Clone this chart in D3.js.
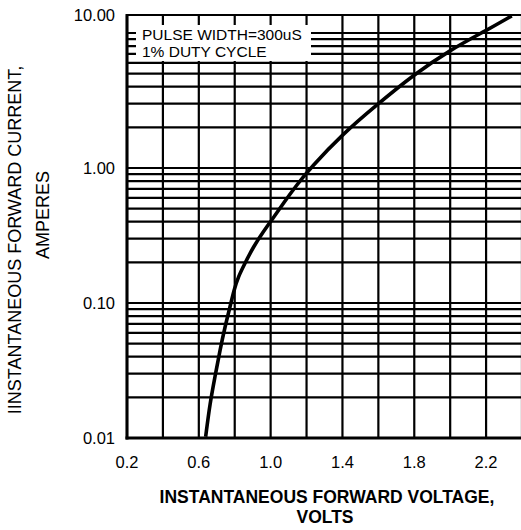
<!DOCTYPE html>
<html lang="en">
<head>
<meta charset="UTF-8" />
<title>Forward characteristics</title>
<script src="https://cdn.jsdelivr.net/npm/d3@7"></script>
<style>
  body { margin: 0; background: #fff; }
  text { font-family: "Liberation Sans", Arial, sans-serif; fill: #000; }
</style>
</head>
<body>
<script>
// curve
var voltage = [0.638, 0.662, 0.690, 0.718, 0.746, 0.774, 0.796, 0.820, 0.857, 0.904, 0.959, 1.006, 1.071, 1.145, 1.220, 1.405, 1.591, 1.795, 1.999, 2.204, 2.343];
var current = [0.0102, 0.0181, 0.0284, 0.0449, 0.0667, 0.0939, 0.125, 0.157, 0.197, 0.261, 0.337, 0.412, 0.548, 0.748, 0.995, 1.807, 2.93, 4.89, 7.48, 10.5, 13.4];

var xTicks = [0.2, 0.6, 1.0, 1.4, 1.8, 2.2];
var xTickLabels = ["0.2", "0.6", "1.0", "1.4", "1.8", "2.2"];
var xGrid = [0.2, 0.4, 0.6, 0.8, 1.0, 1.2, 1.4, 1.6, 1.8, 2.0, 2.2, 2.4];
var yTickLabels = ["0.01", "0.10", "1.00", "10.00"];
var decades = [0.01, 0.1, 1];
var legendLines = ["PULSE WIDTH=300uS", "1% DUTY CYCLE"];

var W = 521, H = 530;
var plotLeft = 127, plotBottom = 438, plotTop = 15, plotRight = 522;

var svg = d3.select("body").append("svg")
  .attr("width", W).attr("height", H);

var x = d3.scaleLinear().domain([0.2, 2.4]).range([plotLeft, plotRight]);
var y = d3.scaleLog().domain([0.01, 10]).range([plotBottom, 33]);
var yTopValue = y.invert(plotTop);

// horizontal grid: 1..9 in each decade plus 10
var yGrid = [];
decades.forEach(function(d) {
  for (var k = 1; k <= 9; k++) yGrid.push(d * k);
});
yGrid.push(10);

var grid = svg.append("g");
grid.selectAll("line.h").data(yGrid).enter().append("line")
  .attr("x1", plotLeft).attr("x2", W)
  .attr("y1", function(d) { return y(d); })
  .attr("y2", function(d) { return y(d); })
  .attr("stroke", "#000").attr("stroke-width", 2.2);

grid.selectAll("line.v").data(xGrid).enter().append("line")
  .attr("x1", function(d) { return x(d); })
  .attr("x2", function(d) { return x(d); })
  .attr("y1", plotTop).attr("y2", plotBottom)
  .attr("stroke", "#000").attr("stroke-width", 2.2);

// frame
svg.append("line").attr("x1", plotLeft).attr("x2", W).attr("y1", plotTop).attr("y2", plotTop)
  .attr("stroke", "#000").attr("stroke-width", 2.2);
svg.append("line").attr("x1", plotLeft).attr("x2", plotLeft).attr("y1", plotTop - 1).attr("y2", plotBottom + 1.5)
  .attr("stroke", "#000").attr("stroke-width", 3);
svg.append("line").attr("x1", plotLeft - 1.5).attr("x2", W).attr("y1", plotBottom).attr("y2", plotBottom)
  .attr("stroke", "#000").attr("stroke-width", 3);

// legend box
svg.append("rect").attr("x", 136).attr("y", 25).attr("width", 175).attr("height", 36)
  .attr("fill", "#fff");
svg.selectAll("text.legend").data(legendLines).enter().append("text")
  .attr("x", 142)
  .attr("y", function(d, i) { return 40 + i * 17; })
  .style("font-size", "15.5px")
  .text(function(d) { return d; });

// curve
var pts = voltage.map(function(v, i) { return [v, current[i]]; });
var line = d3.line()
  .x(function(d) { return x(d[0]); })
  .y(function(d) { return y(d[1]); })
  .curve(d3.curveBasis);
svg.append("path").datum(pts)
  .attr("d", line)
  .attr("fill", "none").attr("stroke", "#000").attr("stroke-width", 3.6);

// tick labels
var yTickValues = [0.01, 0.1, 1, yTopValue];
svg.selectAll("text.ytick").data(yTickValues).enter().append("text")
  .attr("x", 115)
  .attr("y", function(d) { return y(d); })
  .attr("dy", "0.36em")
  .attr("text-anchor", "end")
  .style("font-size", "16.5px")
  .text(function(d, i) { return yTickLabels[i]; });

svg.selectAll("text.xtick").data(xTicks).enter().append("text")
  .attr("x", function(d) { return x(d); })
  .attr("y", 468)
  .attr("text-anchor", "middle")
  .style("font-size", "16.5px")
  .text(function(d, i) { return xTickLabels[i]; });

// axis titles
svg.append("text").attr("x", 327).attr("y", 503).attr("text-anchor", "middle")
  .style("font-size", "17.5px").style("font-weight", "bold")
  .text("INSTANTANEOUS FORWARD VOLTAGE,");
svg.append("text").attr("x", 325).attr("y", 523).attr("text-anchor", "middle")
  .style("font-size", "17.5px").style("font-weight", "bold")
  .text("VOLTS");

svg.append("text")
  .attr("transform", "translate(21,240) rotate(-90)")
  .attr("text-anchor", "middle")
  .style("font-size", "18px")
  .text("IINSTANTANEOUS FORWARD CURRENT,");
svg.append("text")
  .attr("transform", "translate(49,215) rotate(-90)")
  .attr("text-anchor", "middle")
  .style("font-size", "18px")
  .text("AMPERES");
</script>
</body>
</html>
